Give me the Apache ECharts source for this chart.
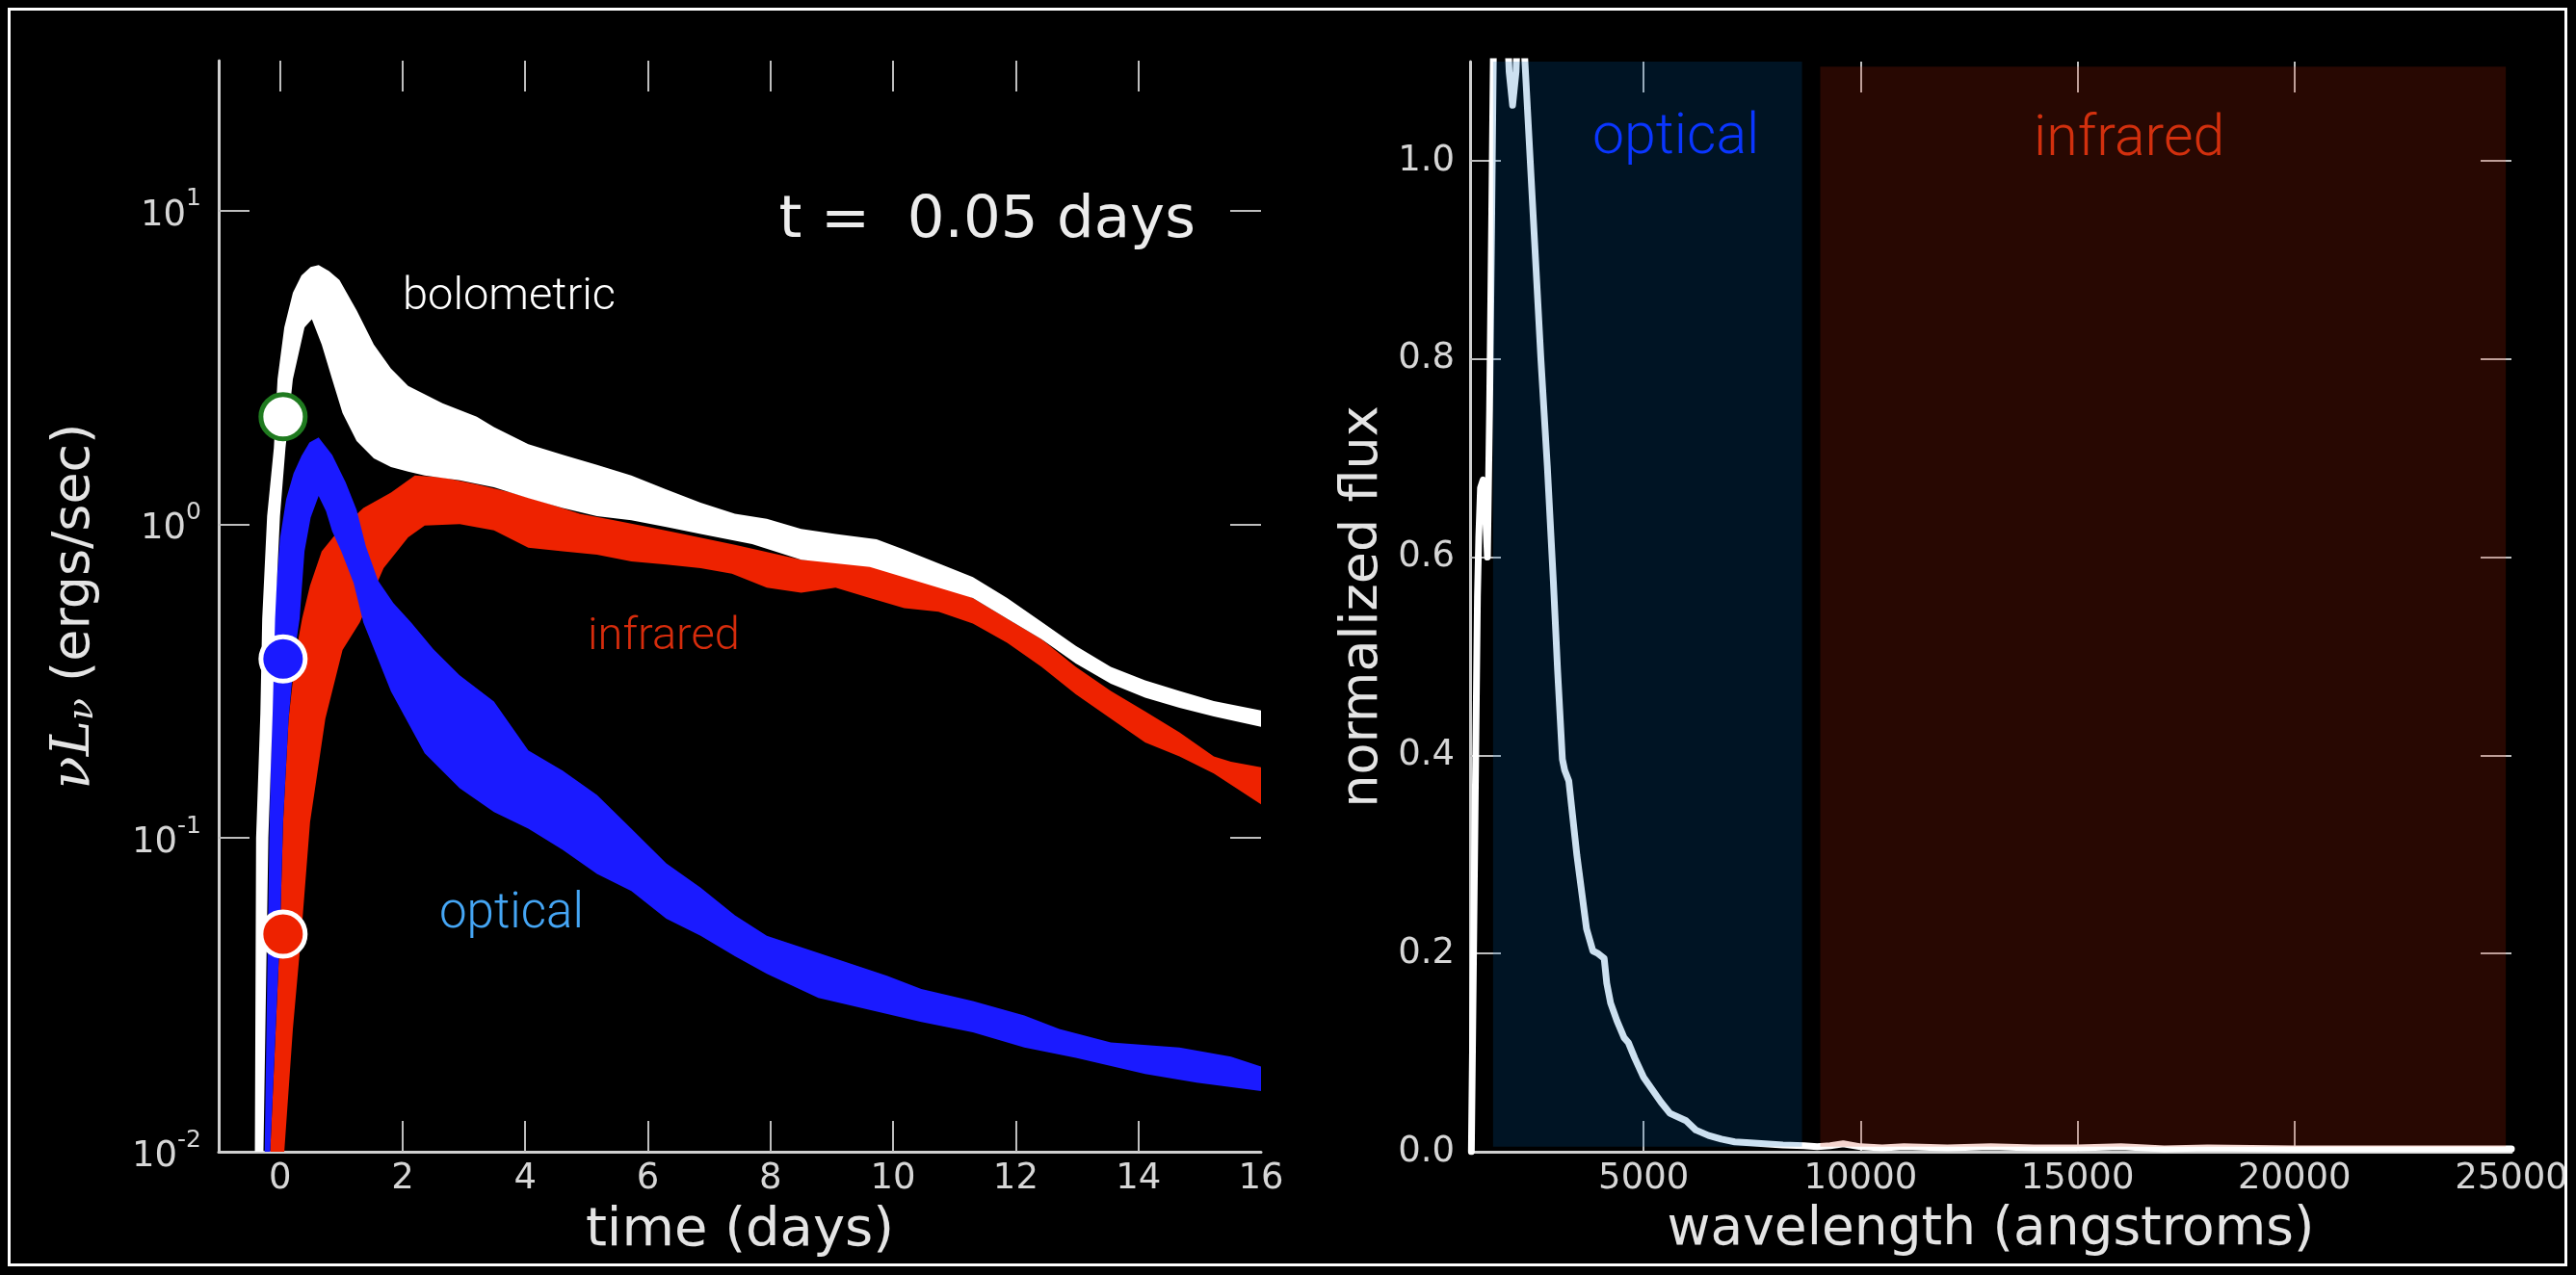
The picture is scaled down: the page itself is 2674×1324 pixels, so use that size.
<!DOCTYPE html>
<html><head><meta charset="utf-8">
<script src="https://cdn.jsdelivr.net/npm/echarts@6/dist/echarts.min.js"></script>
<style>html,body{margin:0;padding:0;background:#000;}#c{width:2674px;height:1324px;}</style>
</head><body><div id="c"></div>
<script>
// ---------- data ----------
const timeTickLabels = [0, 2, 4, 6, 8, 10, 12, 14, 16];
const timeTickMarks = [0, 2, 4, 6, 8, 10, 12, 14];
const lumTickLabels = [0.01, 0.1, 1, 10];
const lumTickMarks = [0.1, 1, 10];
const lumMin = 0.01, lumMax = 30;
const waveTickLabels = [5000, 10000, 15000, 20000, 25000];
const waveTickMarks = [5000, 10000, 15000, 20000];
const fluxTickLabels = [0, 0.2, 0.4, 0.6, 0.8, 1.0];
const fluxTickMarks = [0.2, 0.4, 0.6, 0.8, 1.0];

// bolometric band: outer (upper/left) edge and inner (lower/right) edge, [days, nuL_nu]
const bolUpper = [[-0.41,0.01],[-0.39,0.1],[-0.32,0.25],[-0.29,0.5],[-0.21,1.06],[-0.10,1.75],[-0.04,2.9],[0.07,4.24],[0.21,5.46],[0.35,6.2],[0.50,6.6],[0.63,6.7],[0.80,6.4],[0.97,6.0],[1.25,4.8],[1.53,3.74],[1.81,3.13],[2.09,2.76],[2.65,2.43],[3.21,2.2],[3.49,2.04],[4.05,1.8],[4.61,1.665],[5.17,1.545],[5.73,1.43],[6.30,1.29],[6.86,1.17],[7.42,1.08],[7.94,1.04],[8.50,0.966],[9.06,0.93],[9.73,0.895],[10.18,0.83],[10.74,0.75],[11.30,0.678],[11.86,0.582],[12.42,0.488],[12.98,0.409],[13.55,0.351],[14.11,0.318],[14.67,0.294],[15.23,0.273],[16,0.255]];
const bolLower = [[-0.27,0.01],[-0.19,0.1],[-0.12,0.25],[-0.08,0.5],[0.0,1.06],[0.09,1.75],[0.21,2.9],[0.40,4.24],[0.52,4.5],[0.68,3.74],[0.85,2.9],[1.02,2.26],[1.25,1.84],[1.53,1.62],[1.81,1.52],[2.09,1.47],[2.36,1.43],[2.93,1.38],[3.49,1.31],[4.05,1.21],[4.61,1.126],[5.17,1.06],[5.73,1.03],[6.30,0.98],[6.86,0.93],[7.70,0.864],[8.50,0.77],[9.62,0.731],[10.74,0.628],[11.30,0.582],[11.86,0.50],[12.42,0.43],[12.98,0.36],[13.55,0.31],[14.11,0.28],[14.67,0.26],[15.23,0.244],[16,0.226]];

// infrared band
const irUpper = [[-0.16,0.01],[-0.07,0.0246],[0.0,0.05],[0.05,0.112],[0.14,0.24],[0.26,0.39],[0.36,0.5],[0.49,0.638],[0.68,0.82],[0.91,0.93],[1.36,1.126],[1.81,1.26],[2.20,1.43],[2.65,1.41],[3.21,1.34],[3.77,1.26],[4.33,1.17],[4.89,1.08],[5.45,1.03],[6.01,0.98],[6.57,0.93],[7.42,0.86],[8.50,0.77],[9.62,0.75],[10.74,0.645],[11.30,0.582],[11.86,0.50],[12.42,0.43],[12.98,0.351],[13.55,0.294],[14.11,0.253],[14.67,0.217],[15.23,0.182],[15.51,0.175],[16,0.168]];
const irLower = [[0.07,0.01],[0.21,0.0246],[0.35,0.05],[0.49,0.112],[0.74,0.24],[1.02,0.397],[1.30,0.486],[1.69,0.724],[2.09,0.908],[2.36,0.99],[2.93,1.0],[3.49,0.955],[4.05,0.842],[4.61,0.82],[5.17,0.80],[5.73,0.761],[6.30,0.743],[6.86,0.724],[7.37,0.695],[7.94,0.628],[8.50,0.605],[9.06,0.628],[9.62,0.582],[10.18,0.54],[10.74,0.526],[11.30,0.482],[11.86,0.419],[12.42,0.351],[12.98,0.287],[13.55,0.240],[14.11,0.2015],[14.67,0.182],[15.23,0.1605],[16,0.128]];

// optical band
const optUpper = [[-0.25,0.01],[-0.17,0.112],[-0.10,0.5],[0.0,0.9],[0.10,1.2],[0.22,1.45],[0.35,1.65],[0.48,1.82],[0.63,1.89],[0.85,1.665],[1.07,1.36],[1.25,1.11],[1.40,0.85],[1.60,0.66],[1.85,0.56],[2.14,0.486],[2.50,0.40],[2.93,0.33],[3.49,0.272],[4.05,0.19],[4.61,0.164],[5.17,0.137],[5.73,0.107],[6.30,0.083],[6.86,0.0695],[7.42,0.0567],[7.94,0.0488],[8.78,0.043],[9.90,0.0364],[10.46,0.033],[11.30,0.0302],[12.14,0.0272],[12.71,0.0246],[13.55,0.0223],[14.67,0.0215],[15.51,0.0201],[16,0.0187]];
const optLower = [[-0.16,0.01],[-0.07,0.0246],[0.0,0.05],[0.05,0.112],[0.14,0.24],[0.24,0.39],[0.32,0.5],[0.40,0.82],[0.50,1.05],[0.63,1.23],[0.75,1.1],[0.85,0.95],[1.0,0.82],[1.2,0.65],[1.36,0.486],[1.81,0.293],[2.36,0.186],[2.93,0.144],[3.49,0.121],[4.05,0.107],[4.61,0.0916],[5.17,0.0768],[5.73,0.0677],[6.30,0.0553],[6.86,0.0488],[7.42,0.042],[7.94,0.0369],[8.78,0.0309],[9.62,0.0283],[10.46,0.0259],[11.30,0.024],[12.14,0.0215],[12.98,0.0199],[14.11,0.0177],[14.95,0.0166],[16,0.0156]];

// current-time markers (t = 0.05 days)
const markerTime = [0.05, 0.05, 0.05];
const markerLum = [2.2, 0.372, 0.0494];   // bolometric, optical, infrared

// spectrum
const specWave = [1030,1080,1130,1170,1200,1240,1300,1350,1400,1450,1500,1540,1650,1800,1900,1980,2060,2150,2240,2366,2499,2632,2780,2920,3017,3128,3180,3276,3462,3684,3831,3950,4091,4150,4239,4386,4550,4650,4794,5000,5163,5400,5607,5977,6200,6495,6791,7100,7457,8209,8700,9000,9300,9600,10000,10500,11000,12000,13000,14000,15000,16000,17000,18000,20000,22000,25000];
const specFlux = [0.0,0.2,0.4,0.56,0.62,0.67,0.678,0.65,0.60,0.75,0.95,1.12,1.3,1.2,1.09,1.056,1.09,1.2,1.12,1.0165,0.9085,0.800,0.692,0.575,0.4857,0.396,0.385,0.374,0.299,0.225,0.2026,0.20,0.195,0.17,0.150,0.132,0.115,0.11,0.0946,0.075,0.0648,0.05,0.0387,0.0313,0.022,0.0164,0.0127,0.010,0.009,0.0068,0.006,0.005,0.006,0.008,0.005,0.004,0.005,0.004,0.005,0.004,0.004,0.005,0.003,0.004,0.003,0.003,0.003];

// shaded wavelength regions: [start, end, bottom, top]
const regionOptical = [1530, 8650, 0.005, 1.1];
const regionInfrared = [9070, 24870, 0.005, 1.095];

// ---------- chart ----------
const chart = echarts.init(document.getElementById('c'), null, {renderer: 'canvas'});
const TICK = '#bdbdbd', LBL = '#d6d6d6', NAME = '#e4e4e4', SPINE = '#cfcfcf';
const FONT = 'DejaVu Sans';
const ANN = "Roboto, 'Liberation Sans', sans-serif";

function bandSeries(upper, lower, color, z) {
  const poly = upper.concat(lower.slice().reverse());
  return {
    type: 'custom', xAxisIndex: 0, yAxisIndex: 0, clip: true, z: z, silent: true,
    data: poly, encode: {x: 0, y: 1},
    renderItem: function (params, api) {
      if (params.dataIndex !== 0) return null;
      return {type: 'polygon', shape: {points: poly.map(p => api.coord(p))}, style: {fill: color}};
    }
  };
}
function regionSeries(r, color) {
  return {
    type: 'custom', xAxisIndex: 2, yAxisIndex: 2, clip: true, z: 6, silent: true,
    data: [r], encode: {x: [0, 1], y: [2, 3]},
    renderItem: function (params, api) {
      const a = api.coord([api.value(0), api.value(3)]);
      const b = api.coord([api.value(1), api.value(2)]);
      return {type: 'rect', shape: {x: a[0], y: a[1], width: b[0] - a[0], height: b[1] - a[1]}, style: {fill: color}};
    }
  };
}
function markerSeries(i, fill, border) {
  return {
    type: 'scatter', xAxisIndex: 0, yAxisIndex: 0, z: 10, silent: true,
    symbol: 'circle', symbolSize: 46,
    itemStyle: {color: fill, borderColor: border, borderWidth: 5, opacity: 1},
    data: [[markerTime[i], markerLum[i]]]
  };
}
const tickStyle = {inside: true, length: 32, lineStyle: {color: TICK, width: 2}};
const labelStyle = {color: LBL, fontSize: 37, fontFamily: FONT};
const spine = {show: true, onZero: false, lineStyle: {color: SPINE, width: 3}};
const noSpine = {show: false, onZero: false};

const option = {
  backgroundColor: '#000',
  animation: false,
  grid: [
    {left: 227, top: 63, width: 1082, height: 1133},
    {left: 1526, top: 64, width: 1081, height: 1132}
  ],
  xAxis: [
    {gridIndex: 0, type: 'value', min: -1, max: 16, position: 'bottom', axisLine: spine,
     axisTick: Object.assign({customValues: timeTickMarks}, tickStyle),
     axisLabel: Object.assign({customValues: timeTickLabels, margin: 10}, labelStyle),
     splitLine: {show: false},
     name: 'time (days)', nameLocation: 'middle', nameGap: 54,
     nameTextStyle: {color: NAME, fontSize: 56, fontFamily: FONT}},
    {gridIndex: 0, type: 'value', min: -1, max: 16, position: 'top', axisLine: noSpine,
     axisTick: Object.assign({customValues: timeTickMarks}, tickStyle),
     axisLabel: {show: false}, splitLine: {show: false}},
    {gridIndex: 1, type: 'value', min: 1000, max: 25000, position: 'bottom', axisLine: spine,
     axisTick: Object.assign({customValues: waveTickMarks}, tickStyle),
     axisLabel: Object.assign({customValues: waveTickLabels, margin: 10, formatter: v => String(v)}, labelStyle),
     splitLine: {show: false},
     name: 'wavelength (angstroms)', nameLocation: 'middle', nameGap: 54,
     nameTextStyle: {color: NAME, fontSize: 55, fontFamily: FONT}},
    {gridIndex: 1, type: 'value', min: 1000, max: 25000, position: 'top', axisLine: noSpine,
     axisTick: Object.assign({customValues: waveTickMarks}, tickStyle),
     axisLabel: {show: false}, splitLine: {show: false}}
  ],
  yAxis: [
    {gridIndex: 0, type: 'log', logBase: 10, min: lumMin, max: lumMax, position: 'left', axisLine: spine,
     axisTick: Object.assign({customValues: lumTickMarks}, tickStyle),
     axisLabel: {customValues: lumTickLabels, margin: 18,
       formatter: v => '{b|10}{s|' + Math.round(Math.log10(v)) + '}',
       rich: {b: {color: LBL, fontSize: 37, fontFamily: FONT, lineHeight: 48, verticalAlign: 'bottom'},
              s: {color: LBL, fontSize: 25, fontFamily: FONT, lineHeight: 26, verticalAlign: 'top'}}},
     splitLine: {show: false},
     name: '{m|νL}{sub|ν}{r| (ergs/sec)}', nameLocation: 'middle', nameGap: 122,
     nameTextStyle: {color: NAME, fontSize: 54, fontFamily: FONT,
       rich: {m: {color: NAME, fontSize: 56, fontFamily: 'DejaVu Serif', fontStyle: 'italic', lineHeight: 64, verticalAlign: 'bottom'},
              sub: {color: NAME, fontSize: 38, fontFamily: 'DejaVu Serif', fontStyle: 'italic', lineHeight: 64, verticalAlign: 'bottom'},
              r: {color: NAME, fontSize: 54, fontFamily: FONT, lineHeight: 64, verticalAlign: 'bottom'}}}},
    {gridIndex: 0, type: 'log', logBase: 10, min: lumMin, max: lumMax, position: 'right', axisLine: noSpine,
     axisTick: Object.assign({customValues: lumTickMarks}, tickStyle),
     axisLabel: {show: false}, splitLine: {show: false}},
    {gridIndex: 1, type: 'value', min: 0, max: 1.1, position: 'left', axisLine: spine,
     axisTick: Object.assign({customValues: fluxTickMarks}, tickStyle),
     axisLabel: Object.assign({customValues: fluxTickLabels, margin: 16, formatter: v => v.toFixed(1)}, labelStyle),
     splitLine: {show: false},
     name: 'normalized flux', nameLocation: 'middle', nameGap: 84,
     nameTextStyle: {color: NAME, fontSize: 54, fontFamily: FONT}},
    {gridIndex: 1, type: 'value', min: 0, max: 1.1, position: 'right', axisLine: noSpine,
     axisTick: Object.assign({customValues: fluxTickMarks}, tickStyle),
     axisLabel: {show: false}, splitLine: {show: false}}
  ],
  series: [
    bandSeries(irUpper, irLower, '#ee2200', 3),
    bandSeries(optUpper, optLower, '#1a1aff', 4),
    bandSeries(bolUpper, bolLower, '#ffffff', 5),
    markerSeries(0, '#ffffff', '#1f7a1f'),
    markerSeries(1, '#1a1aff', '#ffffff'),
    markerSeries(2, '#ee2200', '#ffffff'),
    {type: 'line', xAxisIndex: 2, yAxisIndex: 2, z: 4, silent: true, showSymbol: false, clip: true,
     lineStyle: {color: '#ffffff', width: 7, cap: 'round', join: 'round'},
     data: specWave.map((w, i) => [w, specFlux[i]])},
    regionSeries(regionOptical, 'rgba(0,100,180,0.2)'),
    regionSeries(regionInfrared, 'rgba(200,40,10,0.2)')
  ],
  graphic: [
    {type: 'rect', z: 100, silent: true, shape: {x: 9.5, y: 9.5, width: 2654, height: 1304},
     style: {fill: 'none', stroke: '#ffffff', lineWidth: 3}},
    {type: 'text', z: 100, x: 1241, y: 230, style: {text: 't =  0.05 days', fill: '#ececec', font: '61px "DejaVu Sans"', align: 'right', verticalAlign: 'middle'}},
    {type: 'text', z: 100, x: 418, y: 309, style: {text: 'bolometric', fill: '#ffffff', font: '300 47px ' + ANN, align: 'left', verticalAlign: 'middle'}},
    {type: 'text', z: 100, x: 610, y: 662, style: {text: 'infrared', fill: '#d62c0c', font: '300 47px ' + ANN, align: 'left', verticalAlign: 'middle'}},
    {type: 'text', z: 100, x: 456, y: 950, style: {text: 'optical', fill: '#45a6f5', font: '300 51px ' + ANN, align: 'left', verticalAlign: 'middle'}},
    {type: 'text', z: 100, x: 1653, y: 144, style: {text: 'optical', fill: '#0a36ff', font: '300 59px ' + ANN, align: 'left', verticalAlign: 'middle'}},
    {type: 'text', z: 100, x: 2111, y: 146, style: {text: 'infrared', fill: '#d2300e', font: '300 59px ' + ANN, align: 'left', verticalAlign: 'middle'}}
  ]
};
chart.setOption(option);
</script></body></html>
